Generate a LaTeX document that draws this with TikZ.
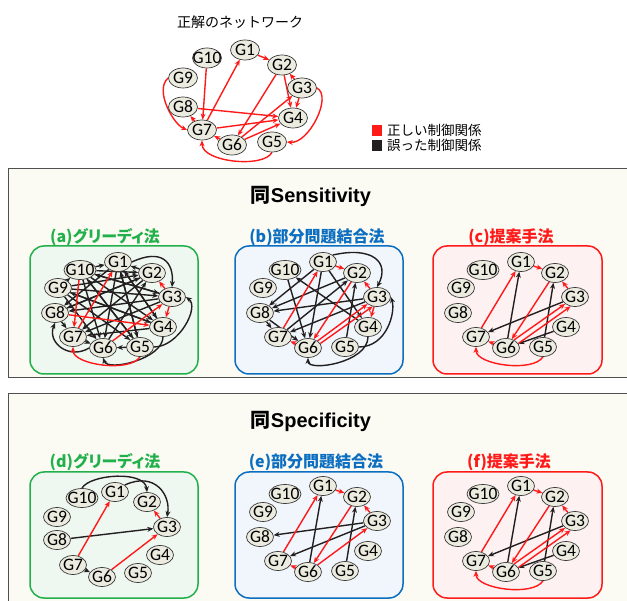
\documentclass[tikz,border=0pt]{standalone}
\usepackage{fontspec}
\setmainfont{Carlito}
\newfontfamily\jp{Noto Sans CJK JP}
\newfontfamily\jpp[RawFeature=+palt]{Noto Sans CJK JP}
\newfontfamily\lsans{Liberation Sans}
\usetikzlibrary{shapes.geometric,arrows.meta}
\definecolor{jred}{HTML}{FF1A1A}
\definecolor{jblk}{HTML}{231F20}
\definecolor{jgreen}{HTML}{22B04B}
\definecolor{jblue}{HTML}{0B6EC0}
\definecolor{genefill}{HTML}{ECEBE0}
\definecolor{geneline}{HTML}{3A3A3A}
\definecolor{secfill}{HTML}{FBFBF4}
\definecolor{secline}{HTML}{505050}
\definecolor{gfill}{HTML}{EFF7F1}
\definecolor{bfill}{HTML}{F0F6FC}
\definecolor{rfill}{HTML}{FDF1F2}
\pgfdeclarelayer{bg}
\pgfdeclarelayer{edges}
\pgfsetlayers{bg,edges,main}
\newcommand\stdgenes[1]{%
  \node[gene=G10,gwide] (#1G10) at (50,24) {};
  \node[gene=G1] (#1G1) at (88,16) {};
  \node[gene=G2] (#1G2) at (122,27) {};
  \node[gene=G9] (#1G9) at (28,42) {};
  \node[gene=G3] (#1G3) at (142,51) {};
  \node[gene=G8] (#1G8) at (25,67) {};
  \node[gene=G4] (#1G4) at (133,81) {};
  \node[gene=G7] (#1G7) at (43,91) {};
  \node[gene=G6] (#1G6) at (73,102) {};
  \node[gene=G5] (#1G5) at (110,101) {};
}
\begin{document}
\begin{tikzpicture}[x=1pt,y=-1pt,
  gene/.style={ellipse,draw=geneline,line width=0.7pt,fill=genefill,
    minimum width=27pt,minimum height=19pt,inner sep=0pt,
    label={[font=\fontsize{17.5}{17.5}\selectfont,inner sep=0pt]center:#1}},
  gwide/.style={minimum width=32pt},
  tgene/.style={gene=#1,minimum width=29pt,minimum height=20pt},
  tr/.style={-{Stealth[length=6pt,width=5pt]},line width=1.4pt,draw=jred},
  fa/.style={-{Stealth[length=6pt,width=5pt]},line width=1.4pt,draw=jblk},
  panel/.style={rounded corners=14pt,line width=1.5pt},
  sec/.style={draw=secline,line width=1pt,fill=secfill},
  subt/.style={font=\jpp\bfseries\fontsize{16}{16}\selectfont,inner sep=0pt},
  sect/.style={font=\fontsize{20}{20}\selectfont,inner sep=0pt},
  legt/.style={font=\jp\fontsize{13.5}{13.5}\selectfont,anchor=west,inner sep=0pt}
]
\useasboundingbox (0,0) rectangle (627,601);

% ---------- backgrounds ----------
\begin{pgfonlayer}{bg}
  \fill[white] (0,0) rectangle (627,601);
  \draw[sec] (8,169) rectangle (640,378);
  \draw[sec] (8,394) rectangle (640,640);
  \draw[panel,draw=jgreen,fill=gfill] (30,246) rectangle (198,374);
  \draw[panel,draw=jblue,fill=bfill] (235,246) rectangle (403,374);
  \draw[panel,draw=jred,fill=rfill] (433,246) rectangle (602,374);
  \draw[panel,draw=jgreen,fill=gfill] (30,472) rectangle (198,598);
  \draw[panel,draw=jblue,fill=bfill] (235,472) rectangle (403,598);
  \draw[panel,draw=jred,fill=rfill] (433,472) rectangle (602,598);
\end{pgfonlayer}

% ---------- texts ----------
\node[font=\jp\fontsize{14}{14}\selectfont,inner sep=0pt] (ttl) at (240,22) {正解のネットワーク};
\fill[jred] (372,125) rectangle (382,136);
\node[legt] (leg1) at (387,130.5) {正しい制御関係};
\fill[jblk] (372,140) rectangle (382,151);
\node[legt] (leg2) at (387,145.5) {誤った制御関係};

\node[sect] (s1) at (311,196) {{\jp\bfseries 同}{\lsans\bfseries Sensitivity}};
\node[sect] (s2) at (311,421) {{\jp\bfseries 同}{\lsans\bfseries Specificity}};

\node[subt,text=jgreen] (ta) at (105,237) {(a)グリーディ法};
\node[subt,text=jblue] (tb) at (317,237) {(b)部分問題結合法};
\node[subt,text=jred] (tc) at (511,237) {(c)提案手法};
\node[subt,text=jgreen] (td) at (105,462) {(d)グリーディ法};
\node[subt,text=jblue] (te) at (316,462) {(e)部分問題結合法};
\node[subt,text=jred] (tf) at (509,462) {(f)提案手法};

% ---------- correct network ----------
\node[tgene=G10] (tG10) at (207,58) {};
\node[tgene=G1] (tG1) at (245,50) {};
\node[tgene=G2] (tG2) at (282,65) {};
\node[tgene=G9] (tG9) at (183,78) {};
\node[tgene=G3] (tG3) at (302,88) {};
\node[tgene=G8] (tG8) at (183,107) {};
\node[tgene=G4] (tG4) at (293,118) {};
\node[tgene=G7] (tG7) at (202,130) {};
\node[tgene=G6] (tG6) at (232,145) {};
\node[tgene=G5] (tG5) at (272,142) {};

% ---------- panels ----------
\begin{scope}[shift={(30,246)}]\stdgenes{a}\end{scope}
\begin{scope}[shift={(235,246)}]\stdgenes{b}\end{scope}
\begin{scope}[shift={(433,246)}]\stdgenes{c}\end{scope}
\begin{scope}[shift={(235,470)}]\stdgenes{e}\end{scope}
\begin{scope}[shift={(433,470)}]\stdgenes{f}\end{scope}
\node[gene=G10,gwide] (dG10) at (82,498) {};
\node[gene=G1] (dG1) at (115,492) {};
\node[gene=G2] (dG2) at (147,502) {};
\node[gene=G9] (dG9) at (57,517) {};
\node[gene=G3] (dG3) at (167,527) {};
\node[gene=G8] (dG8) at (57,540) {};
\node[gene=G4] (dG4) at (160,555) {};
\node[gene=G7] (dG7) at (73,565) {};
\node[gene=G6] (dG6) at (102,577) {};
\node[gene=G5] (dG5) at (138,573) {};

\begin{pgfonlayer}{edges}
% correct network
\draw[tr] (tG1) -- (tG2);
\draw[tr] (tG10) -- (tG7);
\draw[tr] (tG7) -- (tG1);
\draw[tr] (tG2) -- (tG6);
\draw[tr] (tG2) -- (tG4);
\draw[tr] (tG3) -- (tG2);
\draw[tr] (tG3) -- (tG4);
\draw[tr] (tG8) -- (tG4);
\draw[tr] (tG7) -- (tG8);
\draw[tr] (tG7) -- (tG4);
\draw[tr] (tG6) -- (tG3);
\draw[tr] (tG6) -- (tG4);
\draw[tr] (tG6) -- (tG7);
\draw[tr] (tG9.west) .. controls +(-14,12) and +(-14,-6) .. (tG7.west);
\draw[tr] (tG3.east) .. controls +(16,8) and +(22,2) .. (tG5.east);
\draw[tr] (tG5.south) .. controls +(-8,16) and +(0,22) .. (tG7.south);

% (a) greedy, sensitivity
\foreach \s/\t in {9/10,9/2,9/3,9/4,9/5,9/6,10/1,10/2,10/3,10/4,10/5,10/6,
  1/4,1/5,1/6,1/8,2/1,2/7,2/8,3/8,3/7,3/10,4/7,4/9,5/10,5/6,7/6,8/7,8/2,6/2,4/1,5/1}
  \draw[fa] (aG\s) -- (aG\t);
\draw[fa] (aG1.east) .. controls +(30,-14) and +(2,-25) .. (aG3.north);
\draw[fa] (aG5.east) .. controls +(25,0) and +(14,10) .. (aG3.east);
\draw[fa] (aG6.west) .. controls +(-20,12) and +(-8,20) .. (aG8.south);
\draw[fa] (aG4.south) .. controls +(0,22) and +(5,14) .. (aG6.south);
\foreach \s/\t in {10/7,7/1,3/2,3/4,8/4,6/3}
  \draw[tr] (aG\s) -- (aG\t);
\draw[tr] (aG5.south) .. controls +(-10,16) and +(0,18) .. (aG7.south);

% (b) partial problems, sensitivity
\foreach \s/\t in {4/10,10/6,1/6,1/8,2/8,3/8,8/7,8/6,7/2,5/2,1/4,3/7}
  \draw[fa] (bG\s) -- (bG\t);
\draw[fa] (bG1.north east) .. controls (372,246) and (390,262) .. (bG3.north);
\draw[fa] (bG5.east) .. controls +(28,0) and +(5,15) .. (bG3.east);
\draw[fa] (bG4.south) .. controls +(0,26) and +(0,14) .. (bG6.south);
\foreach \s/\t in {1/2,7/1,3/2,3/4,2/6,6/3,6/7}
  \draw[tr] (bG\s) -- (bG\t);
\draw[tr] (bG6.20) -- (bG3.245);

% (c) proposed, sensitivity
\foreach \s/\t in {6/1,3/7,5/2,4/6}
  \draw[fa] (cG\s) -- (cG\t);
\foreach \s/\t in {7/1,1/2,3/2,2/6,6/7}
  \draw[tr] (cG\s) -- (cG\t);
\draw[tr] (cG6.45) -- (cG3.215);
\draw[tr] (cG6.20) -- (cG3.245);
\draw[tr] (cG5.south) .. controls +(-10,16) and +(0,18) .. (cG7.south);

% (d) greedy, specificity
\draw[fa] (dG10.north) .. controls +(8,-14) and +(-2,-22) .. (dG2.north);
\draw[fa] (dG1.north east) .. controls +(30,-14) and +(4,-22) .. (dG3.north);
\draw[fa] (dG8) -- (dG3);
\draw[fa] (dG7) -- (dG6);
\foreach \s/\t in {7/1,3/2,6/3}
  \draw[tr] (dG\s) -- (dG\t);

% (e) partial problems, specificity
\foreach \s/\t in {6/1,3/8,3/7,5/2}
  \draw[fa] (eG\s) -- (eG\t);
\foreach \s/\t in {7/1,1/2,3/2,2/6,6/3,6/7}
  \draw[tr] (eG\s) -- (eG\t);

% (f) proposed, specificity
\foreach \s/\t in {6/1,3/7,5/2,4/6}
  \draw[fa] (fG\s) -- (fG\t);
\foreach \s/\t in {7/1,1/2,3/2,2/6,6/7}
  \draw[tr] (fG\s) -- (fG\t);
\draw[tr] (fG6.45) -- (fG3.215);
\draw[tr] (fG6.20) -- (fG3.245);
\draw[tr] (fG5.south) .. controls +(-10,16) and +(0,18) .. (fG7.south);
\end{pgfonlayer}
\end{tikzpicture}
\end{document}
